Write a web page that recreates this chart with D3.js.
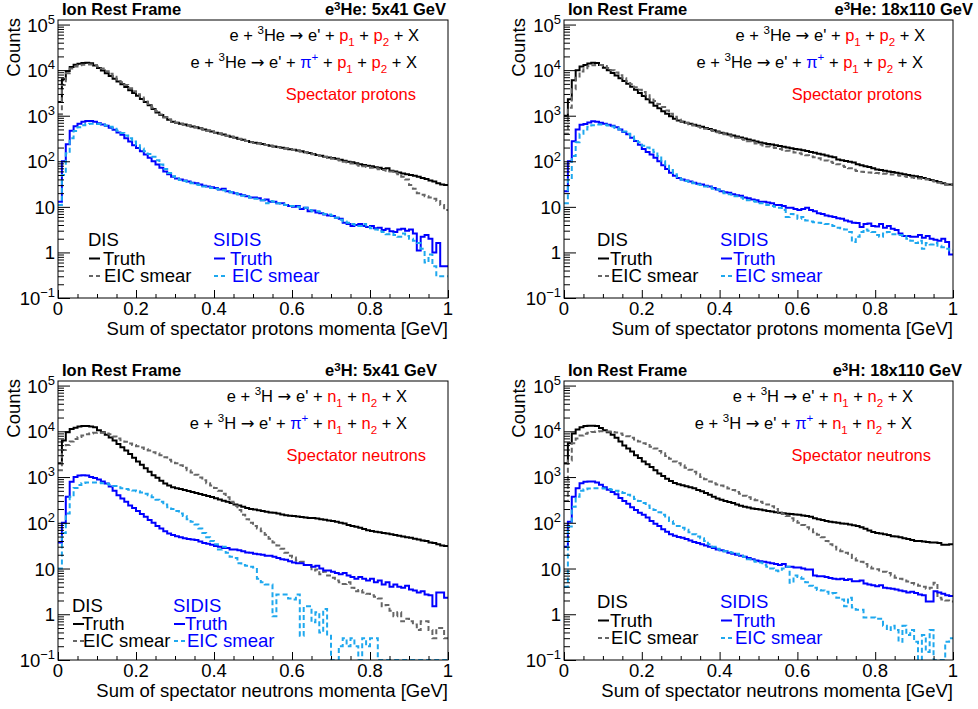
<!DOCTYPE html>
<html><head><meta charset="utf-8">
<script src="https://cdn.jsdelivr.net/npm/d3@7"></script>
<style>body{margin:0;background:#fff}text{white-space:pre}</style>
</head><body>
<script>
// ---------------- DATA ----------------
const binEdges = d3.range(101).map(i => i / 100);   // 100 bins of 0.01 GeV
const xTickValues = [0, 0.2, 0.4, 0.6, 0.8, 1];
const xTickLabels = ["0", "0.2", "0.4", "0.6", "0.8", "1"];
const yDecadeExps = [-1, 0, 1, 2, 3, 4, 5];
const yDecadeLabels = [["10","-1"],["1",""],["10",""],["10","2"],["10","3"],["10","4"],["10","5"]];

// e3He 5x41 GeV, spectator protons
const he41_disTruth = [2000,6300,9500,11700,13200,13800,14400,14500,14100,12600,
 11200,9800,8500,7400,6500,5600,4900,4260,3630,3160,
 2750,2340,2000,1700,1410,1180,1040,920,820,740,
 700,670,640,610,580,555,530,500,475,450,
 425,405,385,365,345,330,310,295,280,265,
 255,248,238,228,220,212,205,198,190,184,
 180,172,165,158,152,145,138,132,126,121,
 118,113,108,103,98,95,90,86,83,80,
 78,74,72,68,70,62,60,57,54,52,
 50,48,46,43,41,38,36,33,31,30];
const he41_disSmear = [1070,4700,8500,10800,12000,12800,13200,13400,13300,12900,
 12000,10800,9500,8300,7200,6200,5400,4700,4000,3450,
 2950,2500,2150,1800,1500,1250,1060,930,830,750,
 700,665,635,615,580,550,525,505,470,445,
 420,400,385,360,345,325,312,290,278,262,
 252,245,235,228,218,210,203,195,190,182,
 177,170,163,157,150,143,137,130,124,118,
 114,109,104,98,94,89,85,80,78,75,
 72,70,67,64,62,60,56,52,46,40,
 30,25,20,18.5,17,16,15,13.5,11,8.5];
const he41_sidisTruth = [13,100,235,470,590,665,740,770,770,740,
 680,640,600,545,490,430,380,320,270,225,
 195,165,140,120,100,85,72,60,52,46,
 42,40,38,36,34,33,31,29,28,27,
 26,24,25,22,21,20,19,18,17,16,
 16,15.5,14,14.5,13,13,12,12,11,10.5,
 10,10.5,9,9.5,8,8.3,7.5,7.2,6.8,6.5,
 6.3,5.8,5.5,4.5,4.2,3.8,4,4.2,3.8,3.6,
 3.8,3.4,3.5,3.1,3.3,2.9,2.8,3.2,3.3,3.0,
 3.2,2.6,1.1,2.2,2.4,2.0,1.0,1.6,0.5,0.5];
const he41_sidisSmear = [11,50,150,320,460,560,620,660,670,670,
 660,640,610,570,520,470,420,370,320,270,
 225,190,165,145,125,105,85,68,55,47,
 42,39,37,35,33,31,30,28,27,26,
 25,24,23,22,21,20,19,17.5,17,16,
 15,15,14,12,13.5,13,12,11.5,11,10.5,
 10.5,10,9.5,9.5,8.5,8,8,7.8,7,6.8,
 6.5,5.8,5.2,4.8,4.5,4.2,4.0,3.8,4.2,3.6,
 3.4,3.2,2.9,2.8,2.5,2.6,2.4,2.2,2.6,2.3,
 2.0,1.8,1.6,1.2,0.6,0.9,0.5,0.3,0.3,0.3];

// e3He 18x110 GeV, spectator protons
const he110_disTruth = [1000,2300,6000,10000,12000,13000,14000,14500,14300,13000,
 11300,10000,8700,7600,6600,5800,5000,4300,3700,3150,
 2700,2300,1950,1650,1450,1260,1100,970,860,780,
 740,700,665,630,600,570,540,510,480,450,
 425,405,388,368,350,332,315,300,284,270,
 258,250,240,232,224,216,208,200,192,186,
 182,175,168,160,153,147,140,134,128,122,
 110,106,102,98,94,86,82,78,75,70,
 66,64,62,60,58,56,54,52,50,48,
 47,45,43,41,39,37,35,33,31,31];
const he110_disSmear = [400,1500,3800,6800,9300,11000,12200,12800,13000,13000,
 12300,11200,10000,8900,7700,6600,5700,4900,4200,3700,
 3300,2800,2400,2100,1800,1550,1300,1100,950,830,
 750,690,645,610,575,545,515,485,460,435,
 410,390,370,350,330,310,295,275,260,245,
 234,222,212,202,195,186,178,170,164,156,
 150,143,136,128,122,116,110,104,98,92,
 86,80,75,70,65,61,59,58,57,56,
 55,54,53,52,51,50,48,47,45,44,
 43,42,41,40,38,36,34,32,31,30];
const he110_sidisTruth = [22,100,275,500,630,660,710,760,740,700,
 670,630,600,560,500,440,390,330,280,230,
 185,160,140,120,100,82,68,56,48,43,
 40,38,36,34,32,31,29,28,26,24,
 22,21,20.5,19,18,17.5,16,15.5,14.5,14,
 13,13,12.5,12,11,11,10.5,9.5,9.5,9,
 8.5,9,9.5,8.5,8,7.2,7,6.5,6.2,6,
 5.6,5.5,5,4.8,4.5,4.4,3.6,4.2,4.3,3.8,
 3.7,4.2,3.5,3.8,3.3,3.1,2.6,2.3,2.3,2.2,
 2.2,2.4,2.1,2.3,2.0,1.9,1.8,2.0,1.7,0.9];
const he110_sidisSmear = [12,40,130,260,400,500,570,620,640,640,
 630,610,580,540,500,450,400,350,300,260,
 220,200,180,160,130,100,80,64,52,45,
 40,37,35,33,31,30,28,27,25,24,
 22,20,19,17,17,16,15,14,13.5,13,
 12,12,11,10.5,10,9.5,8.5,6,7,6.5,
 5.5,6,5,4.8,4.6,4.5,4.4,4.2,4,3.8,
 3.5,3.4,3.2,2.8,1.7,2.2,2.8,3.2,3.0,2.8,
 2.4,2.2,2.6,2.8,2.5,2.5,2.4,2.3,2.0,1.8,
 1.6,1.8,1.2,1.6,1.5,1.6,1.4,1.3,1.2,1.1];

// e3H 5x41 GeV, spectator neutrons
const h41_disTruth = [2000,6300,9500,11200,12000,12800,13000,13000,12800,12300,
 10500,9500,8400,7300,6300,5300,4500,3800,3200,2650,
 2200,1850,1550,1300,1100,960,830,720,650,600,
 570,545,520,495,470,450,425,405,385,365,
 345,325,305,290,270,250,240,225,210,200,
 195,188,180,174,168,165,160,152,147,143,
 140,137,134,131,128,127,124,120,116,112,
 109,105,100,96,90,85,82,78,73,69,
 66,64,62,60,58,56,54,52,50,48,
 47,45,43,41,40,37,36,34,32,31];
const h41_disSmear = [1400,3900,5000,6000,6800,7500,8100,8600,9000,9300,
 9400,9300,9000,8600,7700,7000,6400,5900,5400,5000,
 4700,4400,4100,3800,3500,3300,3000,2700,2400,2200,
 2000,1800,1600,1400,1250,1120,980,850,730,650,
 575,500,430,360,290,235,190,150,120,100,
 85,75,65,55,45,37,32,27,22,19,
 17.5,15,14,12,11,9,9.5,7.5,8.5,7,
 6.3,5.5,5,4.6,5,3.8,3.2,3.4,3.0,2.8,
 2.6,2.4,2.2,1.5,1.6,1.2,0.9,1.1,0.7,0.8,
 0.7,0.6,0.45,0.7,0.7,0.45,0.3,0.5,0.5,0.3];
const h41_sidisTruth = [37,100,370,790,1000,1080,1100,1080,1000,950,
 880,800,720,620,500,400,340,290,240,210,
 180,155,135,115,100,85,75,65,58,54,
 51,48,46,44,43,42,39,36,35,33,
 31,30,28,28,26,26,25,24,22.5,22,
 21,20.5,20,19,19,18,17,16,15.5,14.5,
 13.5,13,13,12,12,11,11.5,10,9,9,
 8.5,8,7.5,8,7,6.5,6,6.5,6,5.5,
 6,5,5.5,4.5,5,4,4.5,4,3.8,4.2,
 3.5,3.3,3,3.2,2.7,2.6,1.5,3,3,2.3];
const h41_sidisSmear = [10,60,160,370,575,670,740,760,760,760,
 750,730,710,680,640,600,570,550,530,510,
 490,460,430,400,360,320,290,250,220,200,
 180,160,140,120,105,92,75,60,48,40,
 34,26,30,22,18,17,13,12,11.5,11,
 10.5,6,5,4.5,4.5,0.9,2.7,2.7,2.7,2.2,
 2.1,2.7,0.34,1.5,1.5,0.67,1.1,0.4,1.3,0.34,
 0,0,0.2,0.3,0.2,0.3,0.2,0,0.3,0.2,
 0.3,0.3,0,0,0,0,0,0,0,0,
 0,0,0,0,0,0,0,0,0,0];

// e3H 18x110 GeV, spectator neutrons
const h110_disTruth = [2000,5500,9000,11000,12300,13000,13300,13300,13000,11800,
 10500,9500,8400,7200,6000,4900,4200,3600,3000,2600,
 2200,1900,1650,1400,1200,1050,920,820,740,700,
 660,630,600,570,520,490,450,410,370,340,
 320,300,285,270,250,235,225,215,205,200,
 195,188,182,176,170,165,162,158,155,152,
 150,145,140,135,125,120,115,110,106,103,
 100,97,95,92,88,85,80,74,68,63,
 60,58,56,54,51,50,48,46,44,42,
 40,40,39,38,37,37,36,33,33,34];
const h110_disSmear = [300,2300,5500,7000,8100,8800,9300,9600,9900,10000,
 10000,9900,9700,9400,9000,8300,7800,7200,6600,6000,
 5500,5000,4600,4200,3700,3300,2900,2500,2200,2000,
 1800,1600,1450,1300,1150,1000,900,800,730,690,
 650,600,560,520,470,430,390,360,330,310,
 290,270,250,230,200,175,155,140,125,110,
 100,90,80,72,62,55,48,40,34,30,
 26,24,22,20,17,15,14,12.5,11,10,
 9.6,9,8.5,8,7,6.3,6,5.5,5.2,4.8,
 4.5,4.2,4.0,3.6,3.8,4.9,2.3,2.1,2.0,1.9];
const h110_sidisTruth = [30,105,370,570,730,790,800,800,760,680,
 600,530,470,420,350,300,260,220,190,165,
 150,130,110,95,85,72,64,56,52,49,
 47,44,41,38,36,34,32,30,28,26,
 25,24,22,21,20,19,18,17,16,15,
 14.5,14,13.5,13,12.5,12,12.5,11,11,10.5,
 10.5,10,9.5,9.5,7,6.8,6.8,6.5,6.2,6,
 5.8,6,5.6,5.8,5.3,5.3,5.5,4.7,4.5,4.3,
 4.1,4.3,3.8,3.7,3.6,3.5,3.3,3.2,3.0,3.1,
 2.9,2.7,2.6,1.9,1.9,3.2,3.0,2.8,2.6,2.5];
const h110_sidisSmear = [4,83,225,370,500,540,560,570,570,570,
 565,550,530,500,470,450,410,370,330,300,
 270,240,210,190,170,150,130,110,95,85,
 78,70,62,56,50,46,40,34,30,27,
 25,24,23,22,21,20,18,16,15,14,
 13.5,12,11,10,9,8.7,10,11,4.9,7,
 6.5,6,5,4.2,3.8,3.4,3.3,3.1,2.8,2.9,
 2.3,2.1,1.5,2.3,1.4,1.25,1.25,0.85,0.85,0.85,
 0.8,0.8,0.56,0.45,0.56,0.45,0.25,0.56,0.35,0.45,
 0.25,0,0.35,0.15,0.45,0,0,0,0.25,0.3];

// ---------------- STYLE / LAYOUT ----------------
const FONT = "'Liberation Sans', Arial, Helvetica, sans-serif";
const RED = "#ff0000", BLUE = "#0000ff", GRAY = "#666666", CYAN = "#1fa8ee";
const yMin = 0.1, yMax = Math.pow(10, 5.1);

const svg = d3.select("body").append("svg")
  .attr("width", 978).attr("height", 709)
  .attr("font-family", FONT);
svg.append("rect").attr("width", 978).attr("height", 709).attr("fill", "#fff");

function rich(parent, x, y, segs, size, opts = {}) {
  const t = parent.append("text").attr("x", x).attr("y", y)
    .attr("font-size", size).attr("text-anchor", opts.anchor || "start")
    .attr("font-weight", opts.weight || "normal").attr("fill", opts.fill || "#000");
  if (opts.rotate) t.attr("transform", `rotate(${opts.rotate},${x},${y})`);
  const up = opts.supRaise || 0.42;
  let shift = 0;
  segs.forEach(s => {
    const target = s.sup ? -up * size : s.sub ? 0.28 * size : 0;
    const ts = t.append("tspan").attr("dy", target - shift).text(s.t);
    if (s.sup || s.sub) ts.attr("font-size", size * 0.7);
    if (s.c) ts.attr("fill", s.c);
    if (s.f) ts.attr("font-family", s.f);
    shift = target;
  });
  return t;
}

function reaction(nuc, part, withPi) {
  const segs = [{t: "e + "}, {t: "3", sup: 1}, {t: nuc + " "}, {t: "\u2192", f: "'DejaVu Sans'"}, {t: " e' + "}];
  if (withPi) segs.push({t: "\u03c0", c: BLUE}, {t: "+", sup: 1, c: BLUE}, {t: " + "});
  segs.push({t: part, c: RED}, {t: "1", sub: 1, c: RED}, {t: " + "},
            {t: part, c: RED}, {t: "2", sub: 1, c: RED}, {t: " + X"});
  return segs;
}

const panels = [
  {id: 1, left: 58, right: 448, top: 20, bottom: 298, nuc: "He", part: "p", spect: "Spectator protons",
   beam: "5x41", xlabel: "Sum of spectator protons momenta [GeV]",
   series: [he41_disTruth, he41_disSmear, he41_sidisTruth, he41_sidisSmear],
   titleR: 446, r1x: 419, r2x: 417, spx: 416, countsX: 20,
   leg: {dx: 88, sx: 213, base: 246, step: 17.5, tOff: 15, sOff: 17}},
  {id: 2, left: 564, right: 953, top: 20, bottom: 298, nuc: "He", part: "p", spect: "Spectator protons",
   beam: "18x110", xlabel: "Sum of spectator protons momenta [GeV]",
   series: [he110_disTruth, he110_disSmear, he110_sidisTruth, he110_sidisSmear],
   titleR: 973, r1x: 925, r2x: 923, spx: 922, countsX: 525,
   leg: {dx: 597, sx: 720, base: 246, step: 17.5, tOff: 13, sOff: 13}},
  {id: 3, left: 58, right: 448, top: 381, bottom: 660, nuc: "H", part: "n", spect: "Spectator neutrons",
   beam: "5x41", xlabel: "Sum of spectator neutrons momenta [GeV]",
   series: [h41_disTruth, h41_disSmear, h41_sidisTruth, h41_sidisSmear],
   titleR: 437, r1x: 407, r2x: 407, spx: 426, countsX: 20,
   leg: {dx: 72, sx: 173, base: 612, step: 17, tOff: 10, sOff: 12}},
  {id: 4, left: 564, right: 953, top: 381, bottom: 660, nuc: "H", part: "n", spect: "Spectator neutrons",
   beam: "18x110", xlabel: "Sum of spectator neutrons momenta [GeV]",
   series: [h110_disTruth, h110_disSmear, h110_sidisTruth, h110_sidisSmear],
   titleR: 962, r1x: 913, r2x: 912, spx: 931, countsX: 525,
   leg: {dx: 597, sx: 720, base: 608, step: 17.5, tOff: 13, sOff: 13}}
];
const seriesStyle = [
  {color: "#000", dash: null},
  {color: GRAY, dash: "5,3"},
  {color: BLUE, dash: null},
  {color: CYAN, dash: "5,3"}
];

function drawPanel(p) {
  const g = svg.append("g");
  const x = d3.scaleLinear().domain([0, 1]).range([p.left, p.right]);
  const y = d3.scaleLog().domain([yMin, yMax]).range([p.bottom, p.top]);

  const clipId = "clip" + p.id;
  svg.append("clipPath").attr("id", clipId).append("rect")
    .attr("x", p.left).attr("y", p.top).attr("width", p.right - p.left).attr("height", p.bottom - p.top);

  const line = d3.line().x(d => x(d[0])).y(d => y(Math.max(d[1], yMin))).curve(d3.curveStepAfter);
  p.series.forEach((vals, k) => {
    const pts = vals.map((v, i) => [binEdges[i], v]);
    pts.push([binEdges[vals.length], vals[vals.length - 1]]);
    g.append("path").attr("d", line(pts)).attr("fill", "none")
      .attr("stroke", seriesStyle[k].color).attr("stroke-width", 2)
      .attr("stroke-dasharray", seriesStyle[k].dash)
      .attr("clip-path", `url(#${clipId})`);
  });

  // frame
  g.append("rect").attr("x", p.left).attr("y", p.top)
    .attr("width", p.right - p.left).attr("height", p.bottom - p.top)
    .attr("fill", "none").attr("stroke", "#000").attr("stroke-width", 1);

  // y ticks
  const majors = yDecadeExps.map(e => Math.pow(10, e));
  const minors = [];
  yDecadeExps.forEach(e => { for (let m = 2; m <= 9; m++) { const v = m * Math.pow(10, e); if (v < yMax) minors.push(v); } });
  const ya = g.append("g").attr("transform", `translate(${p.left},0)`)
    .call(d3.axisLeft(y).tickValues(majors).tickSize(-12).tickFormat(""));
  ya.select(".domain").remove();
  const yb = g.append("g").attr("transform", `translate(${p.left},0)`)
    .call(d3.axisLeft(y).tickValues(minors).tickSize(-6).tickFormat(""));
  yb.select(".domain").remove();

  // x ticks
  const xminors = d3.range(0, 21).map(i => i * 0.05).filter(v => Math.abs(v * 5 - Math.round(v * 5)) > 1e-6);
  const xa = g.append("g").attr("transform", `translate(0,${p.bottom})`)
    .call(d3.axisBottom(x).tickValues(xTickValues).tickSize(-8).tickFormat(""));
  xa.select(".domain").remove();
  const xb = g.append("g").attr("transform", `translate(0,${p.bottom})`)
    .call(d3.axisBottom(x).tickValues(xminors).tickSize(-4).tickFormat(""));
  xb.select(".domain").remove();
  g.selectAll(".tick line").attr("stroke", "#000");

  // y labels
  yDecadeExps.forEach((e, i) => {
    const lab = yDecadeLabels[i];
    const segs = [{t: lab[0]}];
    if (lab[1]) segs.push({t: lab[1] === "-1" ? "\u22121" : lab[1], sup: 1});
    rich(g, p.left - 3, y(majors[i]) + 7, segs, 18.5, {anchor: "end"});
  });
  // x labels
  xTickValues.forEach((v, i) => {
    g.append("text").attr("x", x(v)).attr("y", p.bottom + 17).attr("text-anchor", "middle")
      .attr("font-size", 18.5).text(xTickLabels[i]);
  });
  g.append("text").attr("x", p.right).attr("y", p.bottom + 37).attr("text-anchor", "end")
    .attr("font-size", 18.5).text(p.xlabel);
  // Counts
  rich(g, p.countsX, p.top - 2, [{t: "Counts"}], 18.5, {anchor: "end", rotate: -90});

  // titles
  g.append("text").attr("x", p.left + 4).attr("y", p.top - 5).attr("font-size", 16.5)
    .attr("font-weight", "bold").text("Ion Rest Frame");
  rich(g, p.titleR, p.top - 5, [{t: "e"}, {t: "3", sup: 1}, {t: p.nuc + ": " + p.beam + " GeV"}], 16.5,
       {anchor: "end", weight: "bold", supRaise: 0.3});

  // reactions
  rich(g, p.r1x, p.top + 21, reaction(p.nuc, p.part, false), 16.5, {anchor: "end"});
  rich(g, p.r2x, p.top + 48, reaction(p.nuc, p.part, true), 16.5, {anchor: "end"});
  g.append("text").attr("x", p.spx).attr("y", p.top + 80).attr("font-size", 16.5)
    .attr("text-anchor", "end").attr("fill", RED).text(p.spect);

  // legend
  const L = p.leg;
  const b0 = L.base, b1 = L.base + L.step + 1, b2 = L.base + 2 * L.step + 1;
  g.append("text").attr("x", L.dx).attr("y", b0).attr("font-size", 18.5).text("DIS");
  g.append("line").attr("x1", L.dx + 1).attr("x2", L.dx + 12).attr("y1", b1 - 6).attr("y2", b1 - 6)
    .attr("stroke", "#000").attr("stroke-width", 2);
  g.append("text").attr("x", L.dx + L.tOff).attr("y", b1).attr("font-size", 18.5).text("Truth");
  g.append("line").attr("x1", L.dx + 1).attr("x2", L.dx + 14).attr("y1", b2 - 6).attr("y2", b2 - 6)
    .attr("stroke", GRAY).attr("stroke-width", 2).attr("stroke-dasharray", "4,3");
  g.append("text").attr("x", L.dx + L.tOff + 1).attr("y", b2).attr("font-size", 18.5).text("EIC smear");

  g.append("text").attr("x", L.sx).attr("y", b0).attr("font-size", 18.5).attr("fill", BLUE).text("SIDIS");
  g.append("line").attr("x1", L.sx + 1).attr("x2", L.sx + 12).attr("y1", b1 - 6).attr("y2", b1 - 6)
    .attr("stroke", BLUE).attr("stroke-width", 2);
  g.append("text").attr("x", L.sx + L.sOff).attr("y", b1).attr("font-size", 18.5).attr("fill", BLUE).text("Truth");
  g.append("line").attr("x1", L.sx + 1).attr("x2", L.sx + 14).attr("y1", b2 - 6).attr("y2", b2 - 6)
    .attr("stroke", CYAN).attr("stroke-width", 2).attr("stroke-dasharray", "4,3");
  g.append("text").attr("x", L.sx + L.sOff + 2).attr("y", b2).attr("font-size", 18.5).attr("fill", BLUE).text("EIC smear");
}

panels.forEach(drawPanel);
</script>
</body></html>
